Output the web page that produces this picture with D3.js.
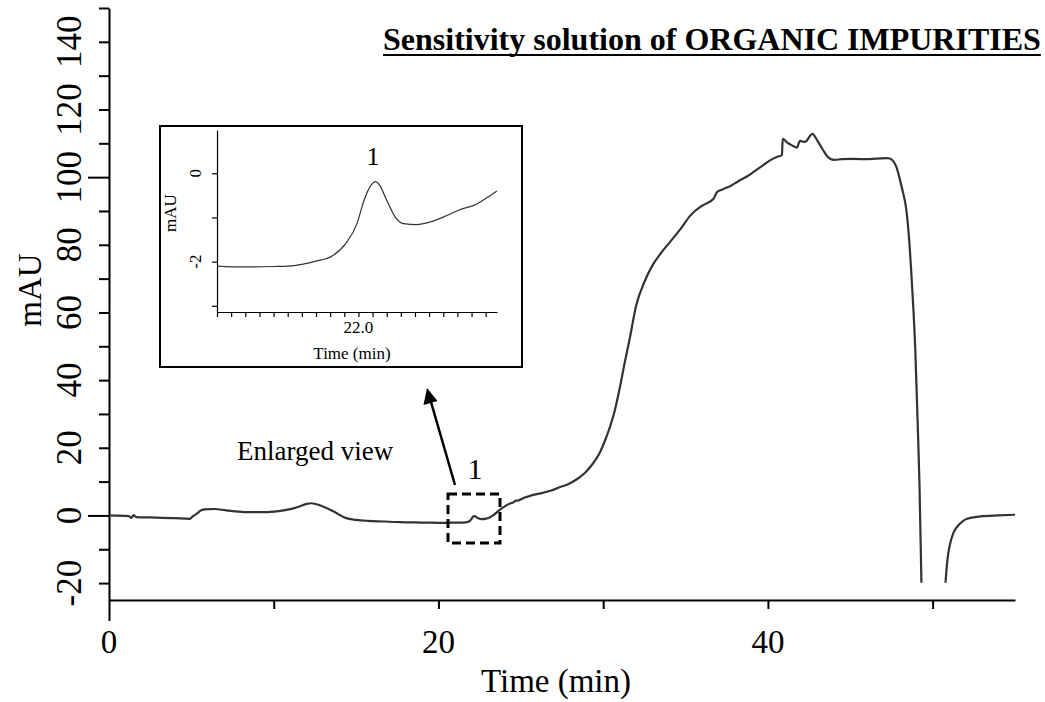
<!DOCTYPE html>
<meta charset="utf-8">
<style>
	body { margin: 0; background: #fff; }
	svg { display: block; }
	text { font-family: "Liberation Serif", "Times New Roman", serif; fill: #000; }
	.trace { fill: none; stroke: #333; stroke-width: 2.2; }
	.inset-trace { fill: none; stroke: #333; stroke-width: 1.2; }
	.axis path, .axis line { stroke: #000; }
</style>
<body>
<div class="vis-chrom"></div>
<script src="https://d3js.org/d3.v7.min.js"></script>
<script>

	// ---- Data ----
	// main chromatogram, time (min) and signal (mAU); null = trace off scale
	const time = [0, 1.2, 1.35, 1.5, 1.65, 2.5, 4.0, 4.9, 5.1, 5.35, 5.6, 5.8, 6.4, 7.1, 8.2, 9.6, 10.6, 11.2, 11.6, 12.0, 12.3, 12.8, 13.3, 13.7, 14.4, 15.0, 15.7, 16.7, 17.7, 19.0, 20.5, 21.0, 21.5, 21.8, 22.0, 22.1, 22.2, 22.35, 22.6, 22.9, 23.1, 23.4, 23.7, 24.0, 24.35, 24.6, 24.7, 24.8, 25.2, 25.7, 26.2, 26.8, 27.4, 27.9, 28.4, 28.9, 29.4, 29.8, 30.1, 30.4, 30.65, 31.0, 31.3, 31.6, 32.0, 32.5, 33.0, 33.5, 34.0, 34.7, 35.3, 35.9, 36.1, 36.7, 36.9, 37.2, 37.7, 38.2, 38.7, 39.2, 39.7, 40.1, 40.5, 40.85, 40.9, 41.15, 41.5, 41.75, 41.95, 42.25, 42.7, 43.0, 43.3, 43.6, 44.0, 44.5, 45.2, 46.0, 46.6, 47.2, 47.4, 47.6, 47.8, 48.0, 48.2, 48.4, 48.55, 48.75, 48.95, 49.08, 49.2, 49.32, 50.0, 50.78, 50.9, 51.06, 51.25, 51.46, 51.8, 52.1, 52.9, 54.0, 55.0];
	const signal = [0, -0.2, -0.7, 0.1, -0.5, -0.6, -0.8, -1.0, -0.2, 0.6, 1.5, 1.8, 1.9, 1.5, 1.0, 1.0, 1.5, 2.1, 2.7, 3.4, 3.6, 3.0, 2.0, 1.0, -0.8, -1.3, -1.6, -1.8, -2.0, -2.1, -2.2, -2.1, -2.1, -1.9, -1.1, -0.3, -0.2, -0.7, -1.1, -0.95, -0.6, 0.3, 1.6, 2.6, 3.5, 4.0, 4.4, 4.4, 5.2, 6.0, 6.5, 7.3, 8.4, 9.3, 10.7, 12.6, 15.5, 18.6, 22.0, 26.0, 30.0, 37.5, 45, 52, 62, 69, 74, 77.5, 80.5, 84.7, 88.7, 91.2, 91.8, 93.6, 95.5, 96.3, 97.3, 98.8, 100.1, 101.8, 103.5, 104.9, 105.9, 106.5, 111.3, 110.3, 109.3, 108.7, 110.7, 110.4, 112.8, 110.8, 108.4, 106.2, 105.1, 105.3, 105.4, 105.3, 105.5, 105.6, 105.5, 104.8, 103, 99.5, 95.5, 90.5, 83, 68, 48.5, 29, 9.5, -19.9, null, -19.9, -13, -8.4, -5.3, -3.5, -1.8, -1.0, -0.3, 0.0, 0.2];

	// enlarged view around peak 1
	const insetTime = [21.0, 21.2, 21.4, 21.5, 21.6, 21.7, 21.82, 21.91, 21.99, 22.04, 22.09, 22.12, 22.15, 22.2, 22.26, 22.32, 22.41, 22.51, 22.63, 22.72, 22.82, 22.91, 22.98];
	const insetSignal = [-2.10, -2.12, -2.11, -2.10, -2.06, -1.99, -1.86, -1.59, -1.14, -0.61, -0.27, -0.19, -0.27, -0.61, -0.99, -1.14, -1.16, -1.10, -0.95, -0.82, -0.72, -0.55, -0.40];

	// axes
	const xTicks = d3.range(0, 51, 10);
	const xLabels = [0, 20, 40];
	const yTicks = d3.range(-20, 151, 10);
	const yLabels = d3.range(-20, 141, 20);
	const insetXTicks = d3.range(0, 20).map(i => 21 + i * 0.1);
	const insetYTicks = [0, -1, -2, -3];
	const insetYLabels = [0, -2];

	// ---- Setup ----
	const W = 1045, H = 702;
	const svg = d3.select(".vis-chrom").append("svg")
		.attr("width", W).attr("height", H);

	const x = d3.scaleLinear().domain([0, 55]).range([109, 1015]);
	const y = d3.scaleLinear().domain([-25, 150]).range([600, 8]);

	// X AXIS
	const xAxis = svg.append("g")
		.attr("class", "axis")
		.attr("transform", "translate(0,600)")
		.call(d3.axisBottom(x).tickValues(xTicks).tickSize(9).tickFormat("").tickSizeOuter(0));
	xAxis.select(".domain").attr("stroke-width", 2);
	xAxis.selectAll(".tick line").attr("stroke-width", 2).attr("y2", d => d === 0 ? 21 : 9);

	svg.selectAll(".xlab").data(xLabels).enter().append("text")
		.attr("x", d => x(d)).attr("y", 653)
		.attr("text-anchor", "middle").style("font-size", "33px")
		.text(d => d);

	svg.append("text")
		.attr("x", 556).attr("y", 692)
		.attr("text-anchor", "middle").style("font-size", "33px")
		.text("Time (min)");

	// Y AXIS
	const yAxis = svg.append("g")
		.attr("class", "axis")
		.attr("transform", "translate(109,0)")
		.call(d3.axisLeft(y).tickValues(yTicks).tickSize(10).tickFormat("").tickSizeOuter(0));
	yAxis.select(".domain").attr("stroke-width", 2);
	yAxis.selectAll(".tick line").attr("stroke-width", 2).attr("x2", d => d % 100 === 0 ? -21 : -10);

	svg.selectAll(".ylab").data(yLabels).enter().append("text")
		.attr("transform", d => "translate(81," + y(d) + ") rotate(-90)")
		.attr("text-anchor", "middle").style("font-size", "35px")
		.text(d => d);

	svg.append("text")
		.attr("transform", "translate(41,290) rotate(-90)")
		.attr("text-anchor", "middle").style("font-size", "33px")
		.text("mAU");

	// TITLE
	const title = svg.append("text")
		.attr("x", 383).attr("y", 50)
		.style("font-size", "32px").style("font-weight", 700)
		.text("Sensitivity solution of ORGANIC IMPURITIES");
	const tw = title.node().getComputedTextLength();
	svg.append("line")
		.attr("x1", 383).attr("x2", 383 + tw)
		.attr("y1", 55).attr("y2", 55)
		.attr("stroke", "#000").attr("stroke-width", 2);

	// TRACE
	const data = time.map((t, i) => ({ t: t, v: signal[i] }));
	const line = d3.line()
		.defined(d => d.v !== null)
		.x(d => x(d.t))
		.y(d => y(d.v))
		.curve(d3.curveMonotoneX);
	svg.append("path").datum(data).attr("class", "trace").attr("d", line);

	// ENLARGED VIEW MARKER
	svg.append("rect")
		.attr("x", 448).attr("y", 494).attr("width", 52).attr("height", 49)
		.attr("fill", "none").attr("stroke", "#000").attr("stroke-width", 3)
		.attr("stroke-dasharray", "9,5");

	svg.append("text")
		.attr("x", 475).attr("y", 479).attr("text-anchor", "middle")
		.style("font-size", "30px").text("1");

	svg.append("text")
		.attr("x", 237).attr("y", 460)
		.style("font-size", "27px").text("Enlarged view");

	// arrow
	svg.append("line")
		.attr("x1", 455).attr("y1", 485).attr("x2", 431).attr("y2", 402)
		.attr("stroke", "#000").attr("stroke-width", 2.5);
	svg.append("path")
		.attr("d", "M427,388 L423.5,405 L437.5,401 Z")
		.attr("fill", "#000");

	// ---- Inset ----
	const inset = svg.append("g");
	inset.append("rect")
		.attr("x", 160).attr("y", 126).attr("width", 362).attr("height", 241)
		.attr("fill", "#fff").attr("stroke", "#000").attr("stroke-width", 2);

	const ix = d3.scaleLinear().domain([21, 22.98]).range([217, 497]);
	const iy = d3.scaleLinear().domain([-3.14, 0.98]).range([312, 130]);

	const ixAxis = inset.append("g")
		.attr("class", "axis")
		.attr("transform", "translate(0,312)")
		.call(d3.axisBottom(ix).tickValues(insetXTicks).tickSize(5).tickFormat("").tickSizeOuter(0));
	ixAxis.selectAll(".tick line").attr("stroke-width", 1.2);
	ixAxis.select(".domain").attr("stroke-width", 1.2);

	const iyAxis = inset.append("g")
		.attr("class", "axis")
		.attr("transform", "translate(217,0)")
		.call(d3.axisLeft(iy).tickValues(insetYTicks).tickSize(5).tickFormat("").tickSizeOuter(0));
	iyAxis.selectAll(".tick line").attr("stroke-width", 1.2);
	iyAxis.select(".domain").attr("stroke-width", 1.2);

	inset.append("text")
		.attr("x", ix(22)).attr("y", 333).attr("text-anchor", "middle")
		.style("font-size", "17px").text("22.0");
	inset.append("text")
		.attr("x", 352).attr("y", 359).attr("text-anchor", "middle")
		.style("font-size", "17px").text("Time (min)");

	inset.selectAll(".iylab").data(insetYLabels).enter().append("text")
		.attr("transform", d => "translate(201," + iy(d) + ") rotate(-90)")
		.attr("text-anchor", "middle").style("font-size", "17px")
		.text(d => d);
	inset.append("text")
		.attr("transform", "translate(176,213) rotate(-90)")
		.attr("text-anchor", "middle").style("font-size", "17px")
		.text("mAU");

	inset.append("text")
		.attr("x", 373).attr("y", 165).attr("text-anchor", "middle")
		.style("font-size", "26px").text("1");

	const insetData = insetTime.map((t, i) => ({ t: t, v: insetSignal[i] }));
	inset.append("path").datum(insetData).attr("class", "inset-trace")
		.attr("d", d3.line().x(d => ix(d.t)).y(d => iy(d.v)).curve(d3.curveMonotoneX));

</script>
</body>
